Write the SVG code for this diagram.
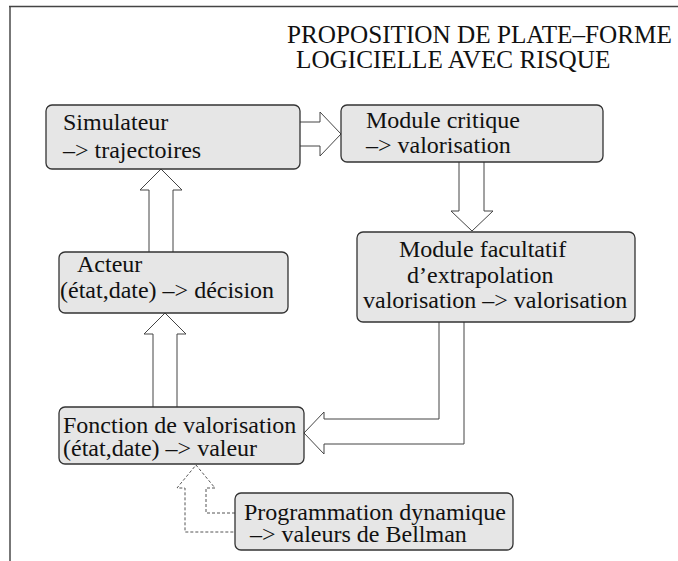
<svg xmlns="http://www.w3.org/2000/svg" width="678" height="561" viewBox="0 0 678 561">
<style>
.box{fill:#e6e6e6;stroke:#333;stroke-width:1.3}
.arr{fill:#fff;stroke:#444;stroke-width:1}
.dash{fill:none;stroke:#555;stroke-width:1;stroke-dasharray:3,2}
</style>
<rect width="678" height="561" fill="#fff"/>
<g id="frame">
<line x1="10" y1="6" x2="10" y2="561" stroke="#777" stroke-width="2"/>
<line x1="9" y1="6.5" x2="678" y2="6.5" stroke="#444" stroke-width="1.4"/>
</g>
<g font-family="'Liberation Serif', 'Times New Roman', Times, 'DejaVu Serif', serif" font-size="24" fill="#111">
<g id="title" font-size="25.2">
<text x="287" y="43">PROPOSITION DE PLATE–FORME</text>
<text x="296" y="68">LOGICIELLE AVEC RISQUE</text>
</g>
<g id="connectors">
<path class="arr" d="M300,122 H320 V112 L341,134 L320,156 V146 H300"/>
<path class="arr" d="M459,162 V211 H451 L472,231 L493,211 H484 V162"/>
<path class="arr" d="M149,252 V190 H140 L161,169 L182,190 H173 V252"/>
<path class="arr" d="M153,407 V334 H144 L165,313 L186,334 H177 V407"/>
<path class="arr" d="M439,322 V419 H324 V412 L304,433 L324,454 V444 H464 V322"/>
<path class="dash" d="M235,513 H206 V488 H215 L196,465 L177,488 H185 V532 H235"/>
</g>
<g id="simulateur">
<rect class="box" x="46" y="105" width="254" height="64" rx="6"/>
<text x="63" y="130">Simulateur</text>
<text x="63" y="158">–&gt; trajectoires</text>
</g>
<g id="module-critique">
<rect class="box" x="341" y="105" width="262" height="57" rx="6"/>
<text x="366" y="128">Module critique</text>
<text x="366" y="153">–&gt; valorisation</text>
</g>
<g id="module-facultatif">
<rect class="box" x="357" y="232" width="278" height="90" rx="6"/>
<text x="399" y="257">Module facultatif</text>
<text x="407" y="283">d’extrapolation</text>
<text x="363" y="308">valorisation –&gt; valorisation</text>
</g>
<g id="acteur">
<rect class="box" x="59" y="252" width="229" height="61" rx="6"/>
<text x="77" y="272">Acteur</text>
<text x="60" y="298">(état,date) –&gt; décision</text>
</g>
<g id="fonction-valorisation">
<rect class="box" x="59" y="407" width="245" height="57" rx="6"/>
<text x="63" y="433">Fonction de valorisation</text>
<text x="63" y="456">(état,date) –&gt; valeur</text>
</g>
<g id="programmation-dynamique">
<rect class="box" x="235" y="493" width="278" height="57" rx="6"/>
<text x="244" y="520">Programmation dynamique</text>
<text x="250" y="542">–&gt; valeurs de Bellman</text>
</g>
</g>
</svg>
